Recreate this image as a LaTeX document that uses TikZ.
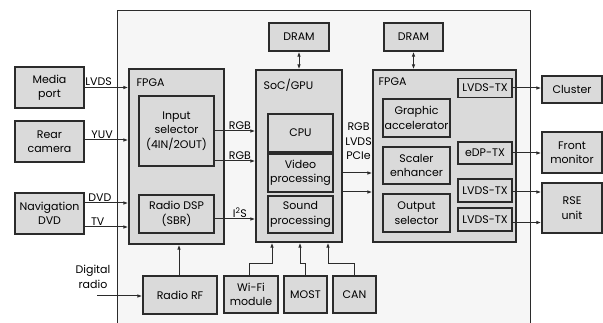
\documentclass[tikz,border=0pt]{standalone}
\usepackage{fontspec}
\setmainfont{Poppins}
\usetikzlibrary{arrows.meta}
\definecolor{boxfill}{HTML}{DADADA}
\definecolor{bgfill}{HTML}{F6F6F6}
\definecolor{linegray}{HTML}{2B2B2B}
\tikzset{
  blk/.style={draw=linegray, line width=1.1pt, fill=boxfill, inner sep=0pt, align=center,
    font=\fontsize{11}{14.5}\selectfont},
  conn/.style={draw=linegray, line width=1pt, -{Latex[length=5pt,width=3.5pt]}},
  sig/.style={font=\fontsize{11}{14.5}\selectfont, inner sep=1pt, align=center},
}
\begin{document}
\begin{tikzpicture}[x=1pt, y=-1pt]
  \useasboundingbox (0,0) rectangle (603,323);
  % housing
  \fill[bgfill] (117,11) rectangle (530,323);
  \draw[linegray, line width=1pt] (117,323) -- (117,11) -- (530,11) -- (530,323);

  % big frames
  \foreach \nm/\cx/\cy/\w/\h in {fpgaL/176.5/156.5/95/175, soc/299/156/86/172, fpgaR/444.5/156/143/172}
    \node[blk, minimum width=\w pt, minimum height=\h pt] (\nm) at (\cx,\cy) {};
  \node[sig, anchor=west] (fpgaLlab) at ([xshift=7pt,yshift=-14pt]fpgaL.north west) {FPGA};
  \node[sig, anchor=west] (soclab) at ([xshift=7pt,yshift=-16pt]soc.north west) {SoC/GPU};
  \node[sig, anchor=west] (fpgaRlab) at ([xshift=5pt,yshift=-12pt]fpgaR.north west) {FPGA};

  % blocks
  \foreach \nm/\cx/\cy/\w/\h/\txt in {
    media/49.5/87.5/69/41/{Media\\port},
    rear/49.5/141.5/69/41/{Rear\\camera},
    nav/49.5/213.5/69/41/{Navigation\\DVD},
    insel/176.5/131/75/70/{Input\\selector\\(4IN/2OUT)},
    rdsp/176.5/214/75/38/{Radio DSP\\(SBR)},
    radiorf/180/295/74/38/{Radio RF},
    wifi/251/294.5/54/37/{Wi-Fi\\module},
    most/305.5/294.5/43/37/{MOST},
    can/354.5/294.5/43/37/{CAN},
    cpu/300.5/133/65/38/{CPU},
    video/300.5/173/65/38/{Video\\processing},
    sound/300.5/214.5/65/37/{Sound\\processing},
    dramA/299/37/60/28/{DRAM},
    dramB/413.5/37/59/28/{DRAM},
    gfx/416.5/118/67/38/{Graphic\\accelerator},
    scaler/416.5/165.5/67/37/{Scaler\\enhancer},
    outsel/416.5/213/67/38/{Output\\selector},
    txA/485/88/54/19/{LVDS-TX},
    edp/485/153/54/22/{eDP-TX},
    txB/485/190.5/54/23/{LVDS-TX},
    txC/485/219.5/54/23/{LVDS-TX},
    cluster/572/89.5/60/27/{Cluster},
    front/572/152.5/60/41/{Front\\monitor},
    rse/572/208/60/50/{RSE\\unit}}
    \node[blk, minimum width=\w pt, minimum height=\h pt] (\nm) at (\cx,\cy) {\txt};

  % inputs
  \draw[conn] (media) -- (media -| fpgaL.west) node[sig, pos=0.32, above] (lvdslab) {LVDS};
  \draw[conn] ([yshift=1.5pt]rear.east) -- ([yshift=1.5pt]rear.east -| fpgaL.west)
    node[sig, pos=0.4, above] (yuvlab) {YUV};
  \draw[conn] ([yshift=10.5pt]nav.east) -- ([yshift=10.5pt]nav.east -| fpgaL.west)
    node[sig, pos=0.35, above] (dvdlab) {DVD};
  \draw[conn] ([yshift=-13.5pt]nav.east) -- ([yshift=-13.5pt]nav.east -| fpgaL.west)
    node[sig, pos=0.3, above] (tvlab) {TV};

  % FPGA -> SoC
  \draw[conn] (insel) -- (insel -| soc.west) node[sig, pos=0.62, above] (rgbA) {RGB};
  \draw[conn] ([yshift=-30pt]insel.east) -- ([yshift=-30pt]insel.east -| soc.west)
    node[sig, pos=0.62, above] (rgbB) {RGB};
  \draw[conn] ([yshift=-5pt]rdsp.east) -- ([yshift=-5pt]rdsp.east -| soc.west)
    node[sig, pos=0.62, above] (i2slab) {I\textsuperscript{2}S};

  % radio
  \coordinate (drin) at (97,296);
  \node[sig] (drlab) at (93,277) {Digital\\radio};
  \draw[conn] (drin) -- (drin -| radiorf.west);
  \draw[conn] ([xshift=-1pt]radiorf.north) -- ([xshift=-1pt]radiorf.north |- fpgaL.south);

  % buses into SoC
  \draw[conn] ([xshift=-2pt]wifi.north) -- ++(0,-12) -| ([xshift=-27pt]soc.south);
  \draw[conn] (most.north) -- ++(0,-12) -| ([xshift=1pt]soc.south);
  \draw[conn] (can.north) -- ++(0,-12) -| ([xshift=29pt]soc.south);

  % memories
  \draw[conn, {Latex[length=5pt,width=3.5pt]}-{Latex[length=5pt,width=3.5pt]}] (dramA) -- (soc);
  \draw[conn, {Latex[length=5pt,width=3.5pt]}-{Latex[length=5pt,width=3.5pt]}] (dramB.south) -- (dramB.south |- fpgaR.north);

  % SoC -> FPGA
  \draw[conn] ([yshift=-17pt]soc.east) -- ([yshift=-17pt]soc.east -| fpgaR.west);
  \draw[conn] ([yshift=-36pt]soc.east) -- ([yshift=-36pt]soc.east -| fpgaR.west);
  \node[sig] (buslab) at (358.5,141.5) {RGB\\LVDS\\PCIe};

  % outputs
  \draw[conn] (txA) -- (txA -| cluster.west);
  \draw[conn] (edp) -- (edp -| front.west);
  \draw[conn] ([yshift=-1.5pt]txB.east) -- ([yshift=-1.5pt]txB.east -| rse.west);
  \draw[conn] ([yshift=-3pt]txC.east) -- ([yshift=-3pt]txC.east -| rse.west);
\end{tikzpicture}
\end{document}
